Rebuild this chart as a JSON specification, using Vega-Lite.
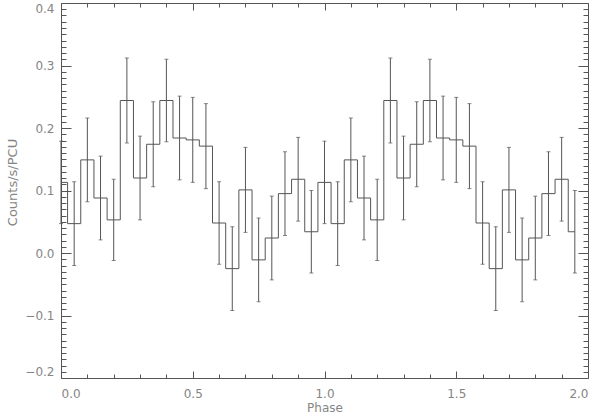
{
  "$schema": "https://vega.github.io/schema/vega-lite/v6.json",
  "width": 527,
  "height": 375,
  "autosize": {"type": "none"},
  "padding": {"left": 61, "top": 3, "right": 12, "bottom": 36},
  "background": "white",
  "config": {
    "view": {"stroke": "#555555", "strokeWidth": 1},
    "axis": {"grid": false, "domain": false, "labelFont": "DejaVu Sans", "titleFont": "DejaVu Sans", "labelColor": "#858585", "titleColor": "#858585", "tickColor": "#555555", "labelFontSize": 12, "titleFontWeight": "normal"}
  },
  "data": {"values": [
    {"phase": 0.00, "rate": 0.113, "err": 0.066},
    {"phase": 0.05, "rate": 0.047, "err": 0.067},
    {"phase": 0.10, "rate": 0.149, "err": 0.067},
    {"phase": 0.15, "rate": 0.088, "err": 0.067},
    {"phase": 0.20, "rate": 0.053, "err": 0.065},
    {"phase": 0.25, "rate": 0.244, "err": 0.068},
    {"phase": 0.30, "rate": 0.120, "err": 0.067},
    {"phase": 0.35, "rate": 0.174, "err": 0.068},
    {"phase": 0.40, "rate": 0.244, "err": 0.066},
    {"phase": 0.45, "rate": 0.184, "err": 0.067},
    {"phase": 0.50, "rate": 0.181, "err": 0.068},
    {"phase": 0.55, "rate": 0.171, "err": 0.068},
    {"phase": 0.60, "rate": 0.048, "err": 0.066},
    {"phase": 0.65, "rate": -0.025, "err": 0.067},
    {"phase": 0.70, "rate": 0.101, "err": 0.068},
    {"phase": 0.75, "rate": -0.011, "err": 0.067},
    {"phase": 0.80, "rate": 0.024, "err": 0.067},
    {"phase": 0.85, "rate": 0.095, "err": 0.067},
    {"phase": 0.90, "rate": 0.118, "err": 0.067},
    {"phase": 0.95, "rate": 0.034, "err": 0.066},
    {"phase": 1.00, "rate": 0.113, "err": 0.066},
    {"phase": 1.05, "rate": 0.047, "err": 0.067},
    {"phase": 1.10, "rate": 0.149, "err": 0.067},
    {"phase": 1.15, "rate": 0.088, "err": 0.067},
    {"phase": 1.20, "rate": 0.053, "err": 0.065},
    {"phase": 1.25, "rate": 0.244, "err": 0.068},
    {"phase": 1.30, "rate": 0.120, "err": 0.067},
    {"phase": 1.35, "rate": 0.174, "err": 0.068},
    {"phase": 1.40, "rate": 0.244, "err": 0.066},
    {"phase": 1.45, "rate": 0.184, "err": 0.067},
    {"phase": 1.50, "rate": 0.181, "err": 0.068},
    {"phase": 1.55, "rate": 0.171, "err": 0.068},
    {"phase": 1.60, "rate": 0.048, "err": 0.066},
    {"phase": 1.65, "rate": -0.025, "err": 0.067},
    {"phase": 1.70, "rate": 0.101, "err": 0.068},
    {"phase": 1.75, "rate": -0.011, "err": 0.067},
    {"phase": 1.80, "rate": 0.024, "err": 0.067},
    {"phase": 1.85, "rate": 0.095, "err": 0.067},
    {"phase": 1.90, "rate": 0.118, "err": 0.067},
    {"phase": 1.95, "rate": 0.034, "err": 0.066}
  ]},
  "layer": [
    {
      "mark": {"type": "line", "interpolate": "step", "color": "#555555", "strokeWidth": 1},
      "encoding": {
        "x": {"field": "phase", "type": "quantitative", "scale": {"domain": [0, 2], "nice": false, "zero": false},
              "axis": {"orient": "bottom", "values": [0, 0.5, 1, 1.5, 2], "format": ".1f", "ticks": false, "labelPadding": 10, "labelBaseline": "top", "title": "Phase", "titleFontSize": 12, "titleBaseline": "middle", "titleY": 29.5}},
        "y": {"field": "rate", "type": "quantitative", "scale": {"domain": [-0.2, 0.4], "nice": false, "zero": false},
              "axis": {"orient": "left", "values": [-0.2, -0.1, 0, 0.1, 0.2, 0.3, 0.4], "format": ".1f", "ticks": false, "labelPadding": 7, "labelFlush": true, "title": "Counts/s/PCU", "titleFontSize": 13, "titleBaseline": "middle", "titleAngle": -90, "titleX": -49, "titleY": 179}}
      }
    },
    {
      "mark": {"type": "errorbar", "ticks": {"size": 4, "color": "#555555", "thickness": 1}, "rule": {"color": "#555555", "strokeWidth": 1}},
      "encoding": {
        "x": {"field": "phase", "type": "quantitative", "scale": {"domain": [0, 2], "nice": false, "zero": false}, "axis": null},
        "y": {"field": "rate", "type": "quantitative", "scale": {"domain": [-0.2, 0.4], "nice": false, "zero": false}, "axis": null},
        "yError": {"field": "err"}
      }
    },
    {
      "mark": {"type": "point", "opacity": 0},
      "encoding": {
        "x": {"field": "phase", "type": "quantitative", "scale": {"domain": [0, 2], "nice": false, "zero": false},
              "axis": {"orient": "bottom", "labels": false, "title": null, "values": [0,0.1,0.2,0.3,0.4,0.5,0.6,0.7,0.8,0.9,1,1.1,1.2,1.3,1.4,1.5,1.6,1.7,1.8,1.9,2],
                       "tickSize": {"condition": {"test": "abs(datum.value*2 - round(datum.value*2)) < 0.000001", "value": -7}, "value": -4}}},
        "y": {"field": "rate", "type": "quantitative", "scale": {"domain": [-0.2, 0.4], "nice": false, "zero": false},
              "axis": {"orient": "left", "labels": false, "title": null, "values": [-0.2,-0.19,-0.18,-0.17,-0.16,-0.15,-0.14,-0.13,-0.12,-0.11,-0.1,-0.09,-0.08,-0.07,-0.06,-0.05,-0.04,-0.03,-0.02,-0.01,0,0.01,0.02,0.03,0.04,0.05,0.06,0.07,0.08,0.09,0.1,0.11,0.12,0.13,0.14,0.15,0.16,0.17,0.18,0.19,0.2,0.21,0.22,0.23,0.24,0.25,0.26,0.27,0.28,0.29,0.3,0.31,0.32,0.33,0.34,0.35,0.36,0.37,0.38,0.39,0.4],
                       "tickSize": {"condition": {"test": "abs(datum.value*10 - round(datum.value*10)) < 0.000001", "value": -10}, "value": -5}}}
      }
    },
    {
      "mark": {"type": "point", "opacity": 0},
      "encoding": {
        "x": {"field": "phase", "type": "quantitative", "scale": {"domain": [0, 2], "nice": false, "zero": false},
              "axis": {"orient": "top", "labels": false, "title": null, "values": [0,0.1,0.2,0.3,0.4,0.5,0.6,0.7,0.8,0.9,1,1.1,1.2,1.3,1.4,1.5,1.6,1.7,1.8,1.9,2],
                       "tickSize": {"condition": {"test": "abs(datum.value*2 - round(datum.value*2)) < 0.000001", "value": -7}, "value": -4}}},
        "y": {"field": "rate", "type": "quantitative", "scale": {"domain": [-0.2, 0.4], "nice": false, "zero": false},
              "axis": {"orient": "right", "labels": false, "title": null, "values": [-0.2,-0.19,-0.18,-0.17,-0.16,-0.15,-0.14,-0.13,-0.12,-0.11,-0.1,-0.09,-0.08,-0.07,-0.06,-0.05,-0.04,-0.03,-0.02,-0.01,0,0.01,0.02,0.03,0.04,0.05,0.06,0.07,0.08,0.09,0.1,0.11,0.12,0.13,0.14,0.15,0.16,0.17,0.18,0.19,0.2,0.21,0.22,0.23,0.24,0.25,0.26,0.27,0.28,0.29,0.3,0.31,0.32,0.33,0.34,0.35,0.36,0.37,0.38,0.39,0.4],
                       "tickSize": {"condition": {"test": "abs(datum.value*10 - round(datum.value*10)) < 0.000001", "value": -10}, "value": -5}}}
      }
    }
  ],
  "resolve": {"axis": {"x": "independent", "y": "independent"}}
}
